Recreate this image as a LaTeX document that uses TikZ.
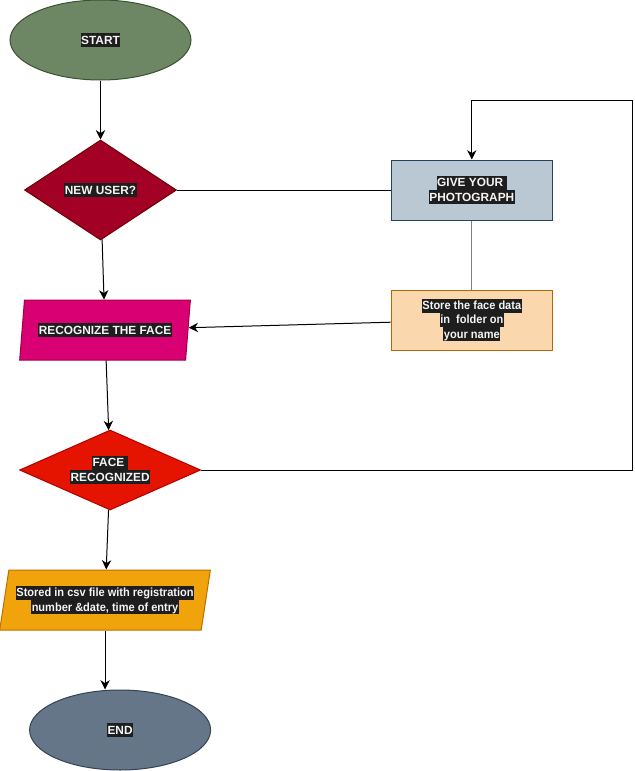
\documentclass[tikz,border=0pt]{standalone}
\usepackage{fontspec}
\setmainfont{Liberation Sans}
\newfontfamily\narrowfont[FakeStretch=0.93]{Liberation Sans}
\usepackage{xcolor}
\usetikzlibrary{shapes,arrows.meta}

\definecolor{startfill}{HTML}{6D8764}
\definecolor{startline}{HTML}{3A5431}
\definecolor{userfill}{HTML}{A20025}
\definecolor{userline}{HTML}{6F0000}
\definecolor{recogfill}{HTML}{D80073}
\definecolor{recogline}{HTML}{A50040}
\definecolor{facefill}{HTML}{E51400}
\definecolor{faceline}{HTML}{B20000}
\definecolor{csvfill}{HTML}{F0A30A}
\definecolor{csvline}{HTML}{BD7000}
\definecolor{endfill}{HTML}{647687}
\definecolor{endline}{HTML}{314354}
\definecolor{givefill}{HTML}{BAC8D3}
\definecolor{giveline}{HTML}{23445D}
\definecolor{storefill}{HTML}{FAD7AC}
\definecolor{storeline}{HTML}{B46504}
\definecolor{hlback}{HTML}{1E1E1E}
\definecolor{textwhite}{HTML}{F4F4F4}

% dark label background, one box per line
\newcommand{\hl}[1]{{\setlength{\fboxsep}{0.4pt}\colorbox{hlback}{\rule[-1.8pt]{0pt}{9.6pt}#1}}}

\begin{document}
\begin{tikzpicture}[->, >={Stealth[length=7pt,width=7pt,inset=2.2pt]}, x=0.75pt, y=-0.75pt,
    font=\fontsize{8.9}{10.7}\selectfont\bfseries, text=textwhite, line width=0.75pt]
      \tikzstyle{terminal}=[ellipse, draw, inner sep=0pt, minimum width=135.75pt, minimum height=60pt]
      \tikzstyle{decision}=[diamond, draw, inner sep=0pt, align=center]
      \tikzstyle{process}=[rectangle, draw, inner sep=0pt, align=center, minimum width=121pt, minimum height=45pt]
      \tikzstyle{io}=[trapezium, trapezium left angle=71, trapezium right angle=109, trapezium stretches body,
          draw, inner sep=0pt, align=center, minimum height=45pt]
      \useasboundingbox (0,0) rectangle (635,771);
      \node[terminal, fill=startfill, draw=startline] (start) at (100.5,40) {\hl{START}};
      \node[decision, fill=userfill, draw=userline, minimum width=114pt, minimum height=75pt, shape aspect=1.5]
          (newuser) [below of=start, node distance=112.5pt] {\hl{NEW USER?}};
      \node[io, fill=recogfill, draw=recogline, minimum width=128pt]
          (recog) [below of=newuser, node distance=105pt, xshift=3.4pt] {\hl{RECOGNIZE THE FACE}};
      \node[decision, fill=facefill, draw=faceline, minimum width=135.75pt, minimum height=60pt, shape aspect=2.2]
          (face) [below of=recog, node distance=105pt, xshift=3.8pt] {\hl{FACE\ }\\\hl{RECOGNIZED}};
      \node[io, fill=csvfill, draw=csvline, minimum width=158pt, trapezium left angle=72, trapezium right angle=108,
          font=\fontsize{8.9}{10.7}\narrowfont\bfseries]
          (csv) [below of=face, node distance=97.5pt, xshift=-3.8pt]
          {\hl{Stored in csv file with registration}\\\hl{number \&date, time of entry}};
      \node[terminal, fill=endfill, draw=endline]
          (end) [below of=csv, node distance=97.5pt, xshift=11.3pt] {\hl{END}};
      \node[process, fill=givefill, draw=giveline]
          (give) [right of=newuser, node distance=278.5pt] {\hl{GIVE YOUR\ }\\\hl{PHOTOGRAPH}};
      \node[process, fill=storefill, draw=storeline, font=\fontsize{8.9}{10.7}\narrowfont\bfseries]
          (store) [below of=give, node distance=97.5pt] {\hl{Store the face data}\\\hl{in\ \ folder on}\\\hl{your name}};
      \coordinate (loopA) at (632,470);
      \coordinate (loopB) at (632,100);
      \path
      (start) edge (newuser)
      (newuser) edge (recog)
      (recog) edge (face)
      (face) edge (csv)
      (store) edge (recog);
      \draw (csv.south) -- (end.north -| csv.south);
      \draw[-] (newuser.east) -- (give.west);
      \draw[-, gray] (give.south) -- (store.north);
      \draw (face.east) -- (loopA) -- (loopB) -| (give.north);
    \end{tikzpicture}
\end{document}
